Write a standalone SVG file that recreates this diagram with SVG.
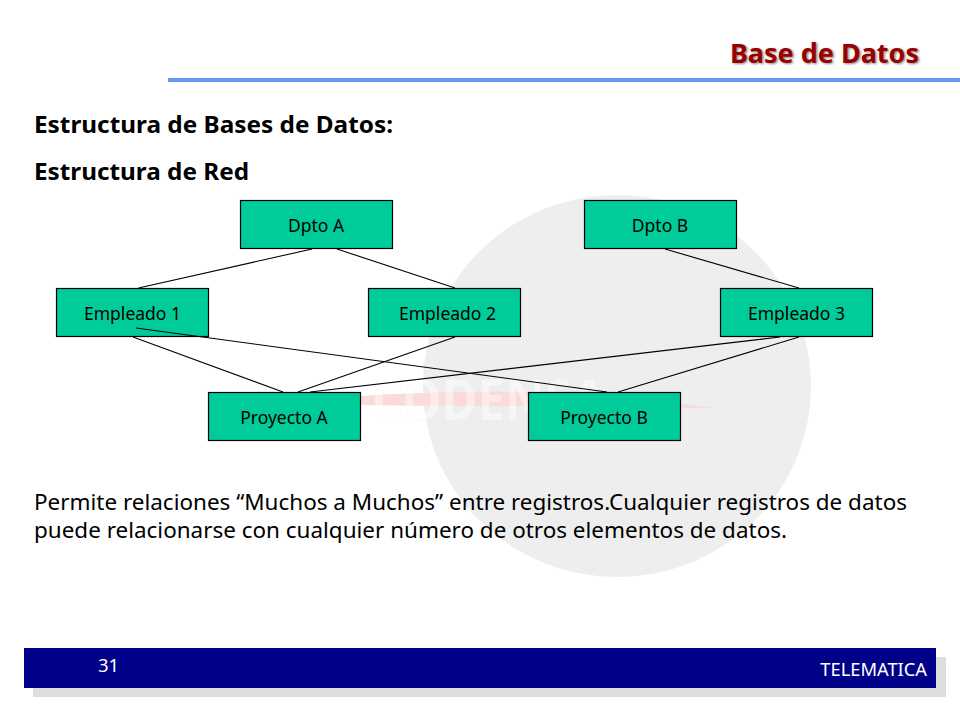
<svg xmlns="http://www.w3.org/2000/svg" width="960" height="720" viewBox="0 0 960 720">
<defs>
<style>
text{font-family:"Noto Sans","DejaVu Sans",sans-serif}
.n rect{fill:#00cc99;stroke:#000;stroke-width:1.2}
.n text{font-size:17.5px;text-anchor:middle;fill:#000}
.h{font-size:24px;font-weight:700;fill:#000}
.b{font-size:22.5px;fill:#000}
#connectors line{stroke:#000;stroke-width:1.1}
</style>
<filter id="s" x="-5%" y="-20%" width="110%" height="140%"><feGaussianBlur stdDeviation="1.2"/></filter>
</defs>
<rect width="960" height="720" fill="#fff"/>
<ellipse cx="617" cy="386" rx="194" ry="191" fill="#eeeeee"/>
<path d="M360 396Q440 391 530 392Q630 398 718 408Q620 408 530 406Q440 406 360 405Z" fill="#fbdad7"/>
<text x="372" y="420" font-size="58" font-weight="700" fill="#fff" fill-opacity=".45" stroke="#e8e8e8" stroke-opacity=".35" stroke-width=".6" textLength="234" lengthAdjust="spacingAndGlyphs">CODENSA</text>
<rect x="168" y="78" width="792" height="4" fill="#6699ee"/>
<text x="919" y="62.500" text-anchor="end" font-size="27px" font-weight="700" fill="#888" filter="url(#s)" transform="translate(1.5 1.5)">Base de Datos</text>
<text x="919" y="62.500" text-anchor="end" font-size="27px" font-weight="700" fill="#990000">Base de Datos</text>
<text class="h" x="34" y="133" textLength="359" lengthAdjust="spacingAndGlyphs">Estructura de Bases de Datos:</text>
<text class="h" x="34" y="180" textLength="215" lengthAdjust="spacingAndGlyphs">Estructura de Red</text>
<g id="dpto-a" class="n"><rect x="240.500" y="200.500" width="152" height="48"/><text x="316" y="232">Dpto A</text></g>
<g id="dpto-b" class="n"><rect x="584.500" y="200.500" width="152" height="48"/><text x="660" y="232">Dpto B</text></g>
<g id="empleado-1" class="n"><rect x="56.500" y="288.500" width="152" height="48"/><text x="132.500" y="320">Empleado 1</text></g>
<g id="empleado-2" class="n"><rect x="368.500" y="288.500" width="152" height="48"/><text x="447.500" y="320">Empleado 2</text></g>
<g id="empleado-3" class="n"><rect x="720.500" y="288.500" width="152" height="48"/><text x="796.500" y="320">Empleado 3</text></g>
<g id="proyecto-a" class="n"><rect x="208.500" y="392.500" width="152" height="48"/><text x="284" y="424">Proyecto A</text></g>
<g id="proyecto-b" class="n"><rect x="528.500" y="392.500" width="152" height="48"/><text x="604" y="424">Proyecto B</text></g>
<g id="connectors">
<line x1="312" y1="249" x2="138.500" y2="288"/>
<line x1="337" y1="249" x2="455" y2="288"/>
<line x1="665" y1="249" x2="799" y2="288"/>
<line x1="133" y1="337" x2="283" y2="392"/>
<line x1="136" y1="328" x2="607" y2="392"/>
<line x1="455" y1="337" x2="298" y2="392"/>
<line x1="780" y1="337" x2="310" y2="392"/>
<line x1="799" y1="337" x2="618" y2="392"/>
</g>
<text class="b" x="34" y="510" textLength="873" lengthAdjust="spacingAndGlyphs">Permite relaciones “Muchos a Muchos” entre registros.Cualquier registros de datos</text>
<text class="b" x="34" y="538" textLength="753" lengthAdjust="spacingAndGlyphs">puede relacionarse con cualquier número de otros elementos de datos.</text>
<rect x="33" y="657" width="913" height="40" fill="#dddddd"/>
<rect x="24" y="648" width="912" height="40" fill="#000088"/>
<text x="98" y="672" font-size="18.500px" fill="#fff">31</text>
<text x="927" y="676" text-anchor="end" font-size="18.300px" fill="#fff">TELEMATICA</text>
</svg>
